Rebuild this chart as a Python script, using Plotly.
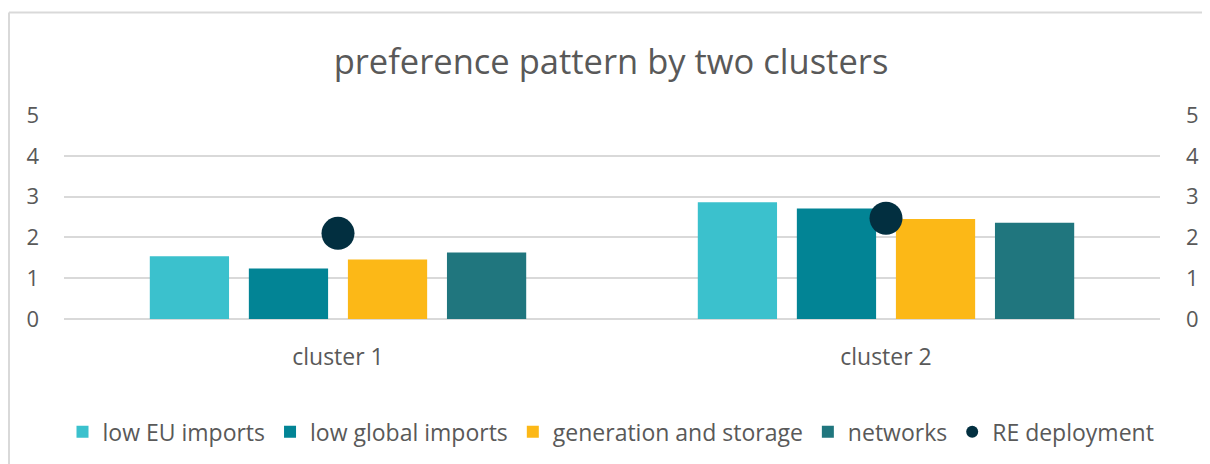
import plotly.graph_objects as go

categories = ["cluster 1", "cluster 2"]
low_eu_imports = [1.54, 2.86]
low_global_imports = [1.24, 2.71]
generation_and_storage = [1.46, 2.45]
networks = [1.63, 2.36]
re_deployment = [2.10, 2.47]

bar_series = [
    ("low EU imports", low_eu_imports, "#3BC1CD"),
    ("low global imports", low_global_imports, "#028495"),
    ("generation and storage", generation_and_storage, "#FCB817"),
    ("networks", networks, "#20767E"),
]

FONT = "Open Sans"
GRAY = "#595959"
OFF = 8  # page body margin

fig = go.Figure()
for name, vals, col in bar_series:
    fig.add_trace(go.Bar(x=categories, y=vals, name=name, marker=dict(color=col, line=dict(width=0))))

fig.add_trace(go.Scatter(x=categories, y=re_deployment, name="RE deployment", mode="markers",
                         marker=dict(color="#022F40", size=33, line=dict(width=0)), yaxis="y2"))

W, H = 1210 - OFF, 464 - OFF
L, R, T, B = 64 - OFF, 1160 - OFF, 114.7 - OFF, 319 - OFF
pw, ph = R - L, B - T

def px(x):
    return (x - OFF - L) / pw

def py(y):
    return (B - (y - OFF)) / ph

fig.update_layout(
    width=W, height=H,
    margin=dict(l=L, r=W - R, t=T, b=H - B, autoexpand=False),
    paper_bgcolor="white", plot_bgcolor="white",
    barmode="group", bargap=0.277, bargroupgap=0.2,
    font=dict(family=FONT, color=GRAY, size=22),
    title=dict(text="preference pattern by two clusters", xref="container", x=(611 - OFF) / W,
               xanchor="center", y=1 - (62 - OFF) / H, yanchor="middle",
               font=dict(size=34.5, color=GRAY, family=FONT)),
    xaxis=dict(showgrid=False, showline=False, ticks="", tickfont=dict(size=23, color=GRAY),
               ticklabelstandoff=22),
    yaxis=dict(range=[0, 5], dtick=1, showgrid=True, gridcolor="#D9D9D9", gridwidth=1.5,
               zeroline=True, zerolinecolor="#D9D9D9", zerolinewidth=1.5,
               tickfont=dict(size=22, color=GRAY), ticklabelstandoff=24),
    yaxis2=dict(range=[0, 5], dtick=1, overlaying="y", side="right", showgrid=False, zeroline=False,
                tickfont=dict(size=22, color=GRAY), ticklabelstandoff=25),
    legend=dict(orientation="h", x=px(611), xanchor="center", y=py(432), yanchor="middle",
                font=dict(size=23, color=GRAY), itemsizing="constant", tracegroupgap=0, itemwidth=30),
    showlegend=True,
    shapes=[
        dict(type="line", xref="paper", yref="paper", x0=px(9), x1=px(9), y0=py(12), y1=py(480),
             line=dict(color="#D9D9D9", width=2)),
        dict(type="line", xref="paper", yref="paper", x0=px(9), x1=px(1220), y0=py(12), y1=py(12),
             line=dict(color="#D9D9D9", width=2)),
    ],
)

fig.write_html("out.html")
